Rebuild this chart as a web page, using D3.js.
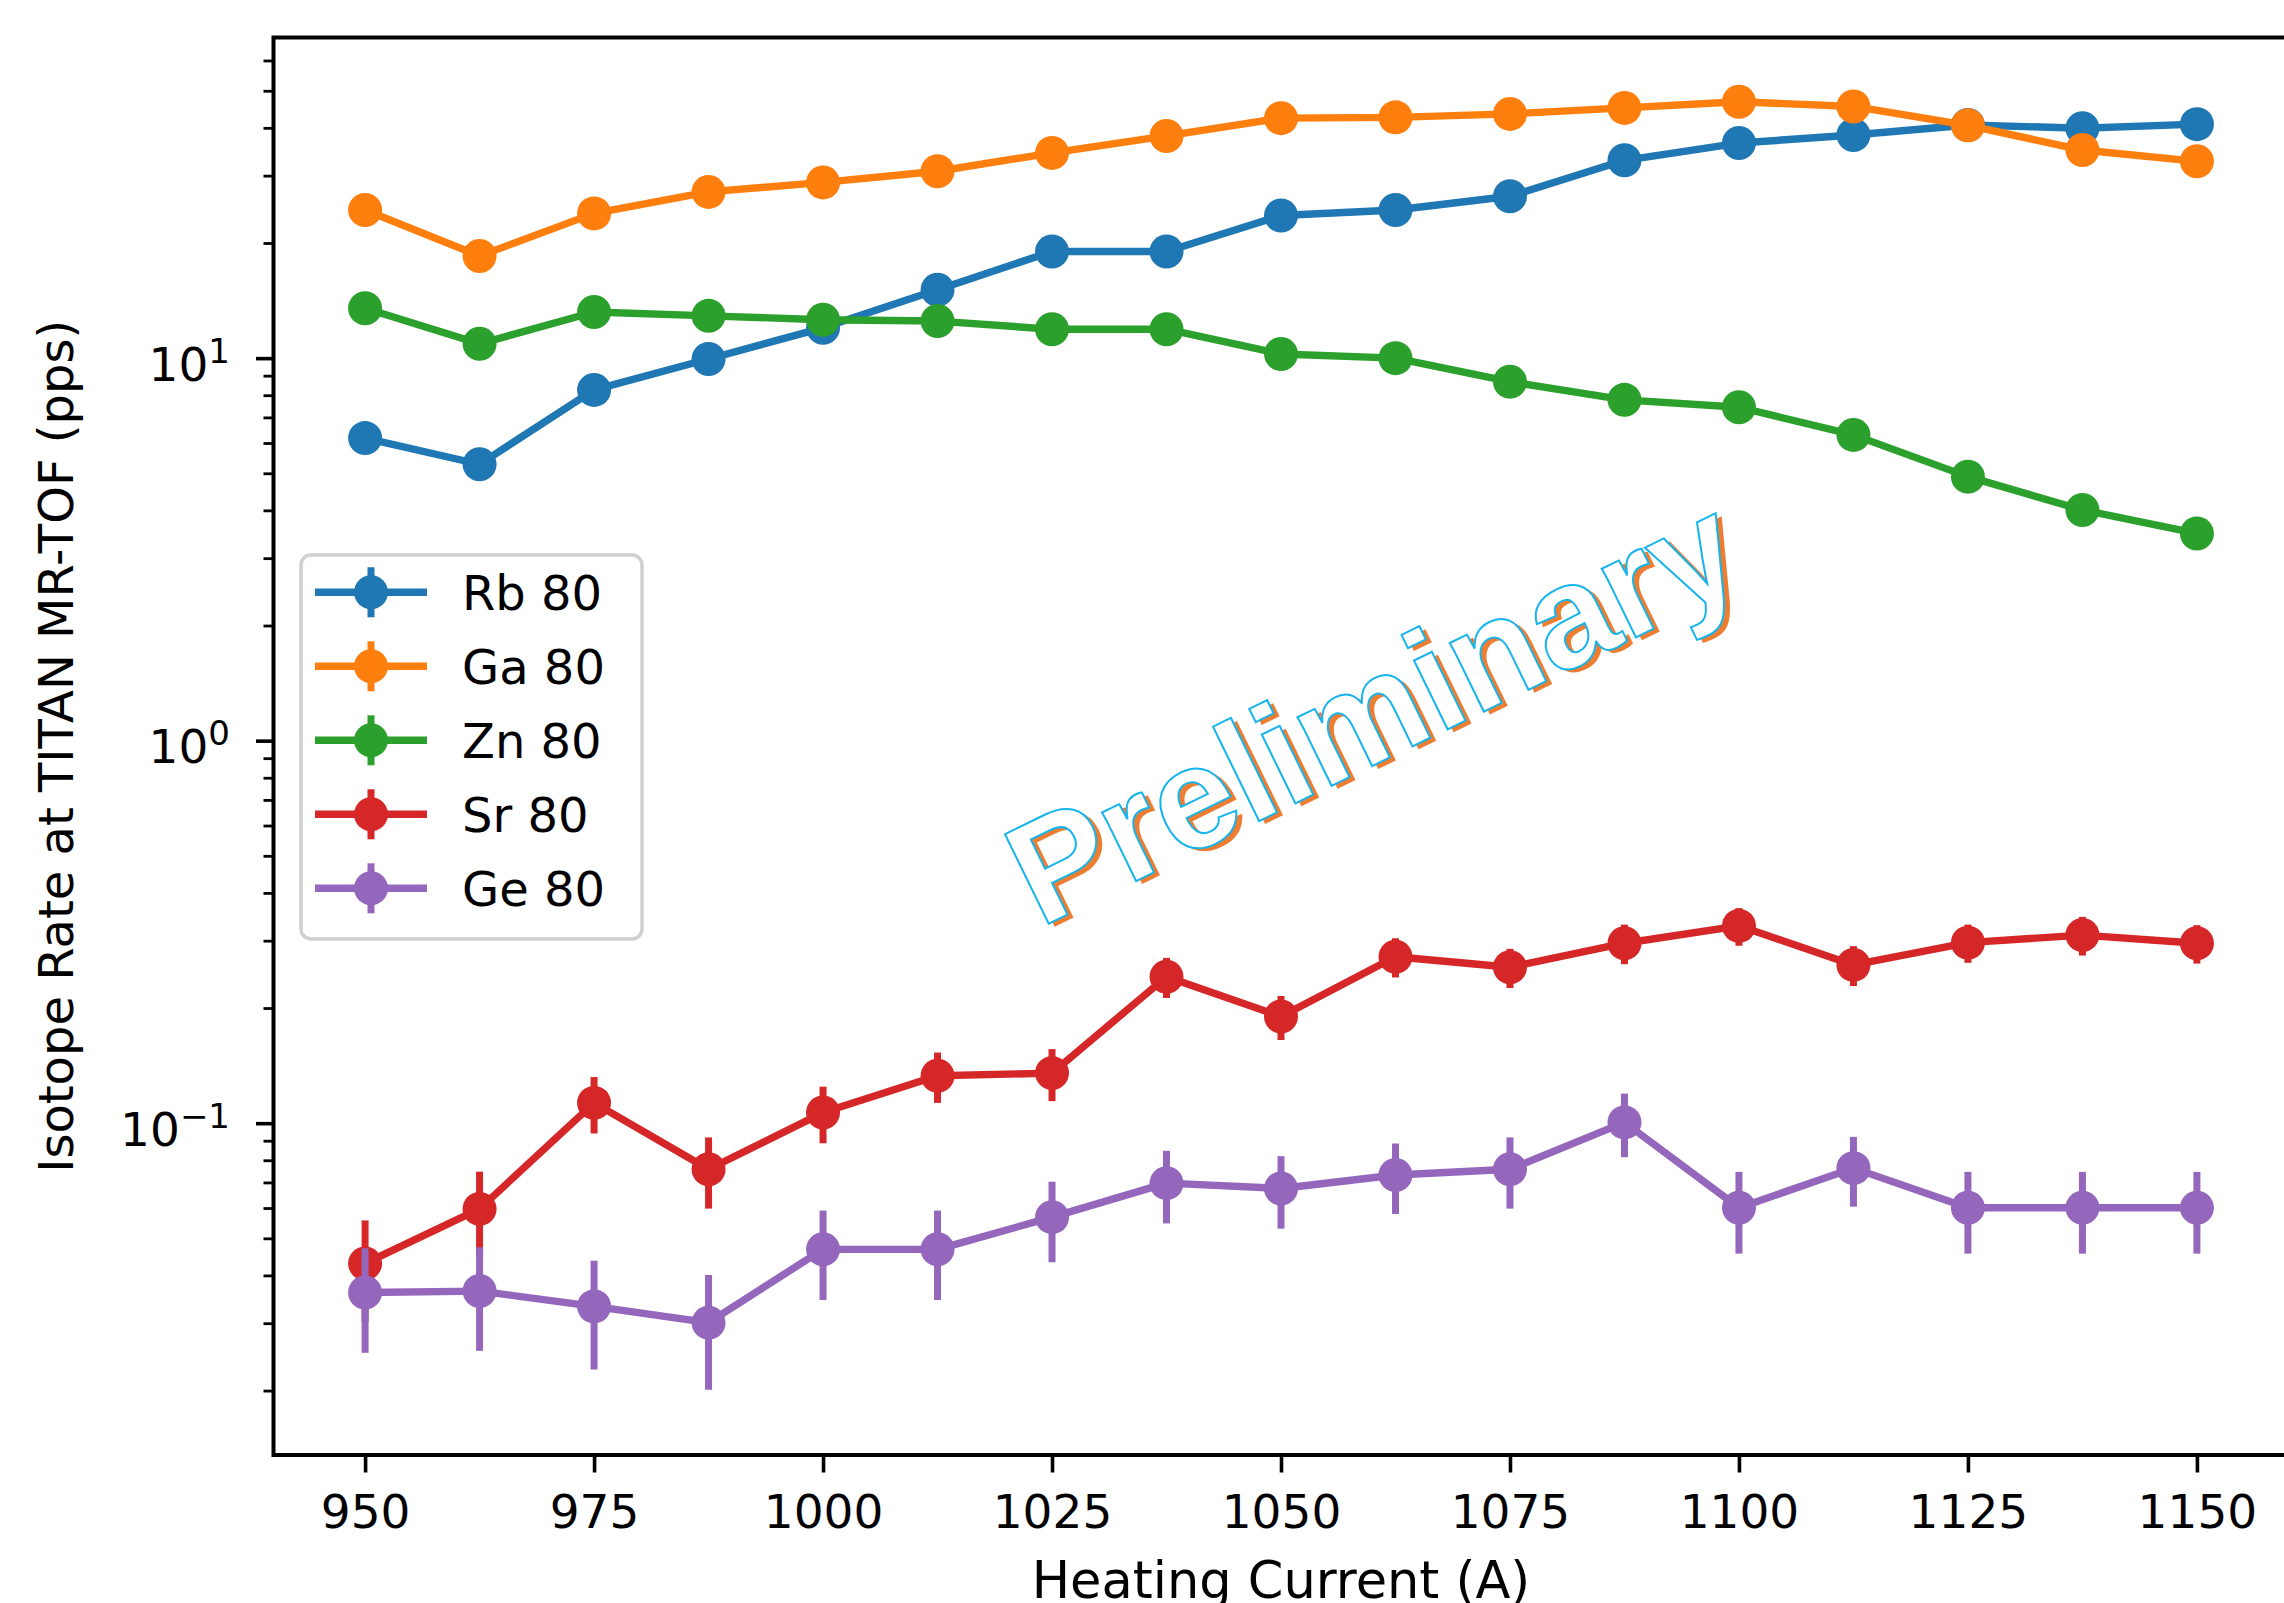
<!DOCTYPE html>
<html>
<head>
<meta charset="utf-8">
<script src="https://cdn.jsdelivr.net/npm/d3@7"></script>
<style>
  body { margin:0; background:white; }
  svg { display:block; }
</style>
</head>
<body>
<svg></svg>
<script>
// heating current (A)
var currents = [950, 962.5, 975, 987.5, 1000, 1012.5, 1025, 1037.5, 1050, 1062.5, 1075, 1087.5, 1100, 1112.5, 1125, 1137.5, 1150];

// rates (pps)
var rb80 = [6.18, 5.28, 8.26, 9.95, 12.0, 15.1, 19.0, 19.0, 23.6, 24.4, 26.5, 32.9, 36.5, 38.3, 40.7, 39.9, 40.9];
var ga80 = [24.4, 18.5, 23.9, 27.2, 28.8, 30.8, 34.4, 38.1, 42.4, 42.6, 43.5, 45.1, 46.8, 45.5, 40.6, 35.0, 32.7];
var zn80 = [13.5, 10.9, 13.2, 12.9, 12.6, 12.5, 11.9, 11.9, 10.25, 10.0, 8.68, 7.78, 7.44, 6.30, 4.90, 4.01, 3.48];
var sr80 = [0.0430, 0.0597, 0.1130, 0.0758, 0.1066, 0.133, 0.1352, 0.2415, 0.190, 0.2724, 0.2556, 0.2954, 0.328, 0.2593, 0.2965, 0.3103, 0.2954];
var ge80 = [0.0361, 0.0364, 0.0332, 0.0301, 0.0468, 0.0468, 0.0568, 0.0697, 0.0675, 0.0732, 0.0758, 0.1005, 0.0601, 0.0763, 0.0601, 0.0601, 0.0601];

// error bars (only visible ones for Sr / Ge)
var sr80Err = [0.0127, 0.015, 0.019, 0.016, 0.018, 0.020, 0.021, 0.029, 0.025, 0.032, 0.030, 0.035, 0.037, 0.031, 0.034, 0.036, 0.034];
var ge80Err = [0.011, 0.011, 0.0105, 0.010, 0.0123, 0.0123, 0.0135, 0.015, 0.0145, 0.0153, 0.016, 0.019, 0.0145, 0.0158, 0.0145, 0.0145, 0.0145];

var seriesNames = ["Rb 80", "Ga 80", "Zn 80", "Sr 80", "Ge 80"];
var seriesValues = [rb80, ga80, zn80, sr80, ge80];
var seriesErrors = [null, null, null, sr80Err, ge80Err];
var colors = ["#1f77b4", "#ff7f0e", "#2ca02c", "#d62728", "#9467bd"];

var xTicks = [950, 975, 1000, 1025, 1050, 1075, 1100, 1125, 1150];
var yMajor = [0.1, 1, 10];
var yMajorExp = ["\u22121", "0", "1"];

var screen = {width:2284, height:1603};
var box = {left:273.5, right:2288.5, top:37.5, bottom:1455};

var svg = d3.select("svg")
            .attr("width", screen.width)
            .attr("height", screen.height);

svg.append("rect")
   .attr("width", screen.width)
   .attr("height", screen.height)
   .attr("fill", "white");

var xScale = d3.scaleLinear()
               .domain([940, 1160])
               .range([box.left, box.right]);

var yScale = d3.scaleLog()
               .domain([0.01357, 68.9])
               .range([box.bottom, box.top]);

// minor ticks 2..9 x 10^k inside the domain
var yMinor = [];
[0.01, 0.1, 1, 10].forEach(function(p){
  for (var k = 2; k <= 9; k++) {
    var v = k * p;
    if (v > yScale.domain()[0] && v < yScale.domain()[1]) yMinor.push(v);
  }
});

// x axis
var xAxis = svg.append("g")
   .attr("transform", "translate(0," + box.bottom + ")")
   .call(d3.axisBottom(xScale)
           .tickValues(xTicks)
           .tickFormat(d3.format("d"))
           .tickSize(17.5)
           .tickSizeOuter(0)
           .tickPadding(22));
xAxis.select(".domain").remove();
xAxis.selectAll("line").attr("stroke", "black").attr("stroke-width", 3.6);
xAxis.selectAll("text")
     .attr("font-family", "DejaVu Sans")
     .attr("font-size", 47)
     .attr("fill", "black");

// y axis, minor
var yMinorAxis = svg.append("g")
   .attr("transform", "translate(" + box.left + ",0)")
   .call(d3.axisLeft(yScale)
           .tickValues(yMinor)
           .tickFormat("")
           .tickSize(10)
           .tickSizeOuter(0));
yMinorAxis.select(".domain").remove();
yMinorAxis.selectAll("line").attr("stroke", "black").attr("stroke-width", 2.8);

// y axis, major
var yAxis = svg.append("g")
   .attr("transform", "translate(" + box.left + ",0)")
   .call(d3.axisLeft(yScale)
           .tickValues(yMajor)
           .tickFormat("")
           .tickSize(17.5)
           .tickSizeOuter(0));
yAxis.select(".domain").remove();
yAxis.selectAll("line").attr("stroke", "black").attr("stroke-width", 3.6);
yAxis.selectAll("text").remove();

var yLabels = yAxis.selectAll("g.tick")
   .append("text")
   .attr("x", 230 - box.left)
   .attr("y", 22)
   .attr("text-anchor", "end")
   .attr("font-family", "DejaVu Sans")
   .attr("fill", "black");
yLabels.append("tspan")
   .attr("font-size", 47)
   .text("10");
yLabels.append("tspan")
   .attr("font-size", 34)
   .attr("dy", -18)
   .text(function(d, i){ return yMajorExp[i]; });

// data
var lineGen = d3.line()
   .x(function(d){ return xScale(d[0]); })
   .y(function(d){ return yScale(d[1]); });

seriesValues.forEach(function(vals, s)
{
  var pts = currents.map(function(c, i){ return [c, vals[i]]; });
  var g = svg.append("g");

  g.append("path")
   .attr("d", lineGen(pts))
   .attr("fill", "none")
   .attr("stroke", colors[s])
   .attr("stroke-width", 7.4)
   .attr("stroke-linejoin", "round");

  g.selectAll("circle")
   .data(pts)
   .enter()
   .append("circle")
   .attr("cx", function(d){ return xScale(d[0]); })
   .attr("cy", function(d){ return yScale(d[1]); })
   .attr("r", 17)
   .attr("fill", colors[s]);

  var errs = seriesErrors[s];
  if (errs) {
    g.selectAll("line.err")
     .data(pts)
     .enter()
     .append("line")
     .attr("class", "err")
     .attr("x1", function(d){ return xScale(d[0]); })
     .attr("x2", function(d){ return xScale(d[0]); })
     .attr("y1", function(d, i){ return yScale(d[1] + errs[i]); })
     .attr("y2", function(d, i){ return yScale(d[1] - errs[i]); })
     .attr("stroke", colors[s])
     .attr("stroke-width", 7);
  }
});

// spines
svg.append("rect")
   .attr("x", box.left)
   .attr("y", box.top)
   .attr("width", box.right - box.left)
   .attr("height", box.bottom - box.top)
   .attr("fill", "none")
   .attr("stroke", "black")
   .attr("stroke-width", 4);

// axis titles
svg.append("text")
   .attr("x", (box.left + box.right) / 2)
   .attr("y", 1598)
   .attr("text-anchor", "middle")
   .attr("font-family", "DejaVu Sans")
   .attr("font-size", 51)
   .text("Heating Current (A)");

svg.append("text")
   .attr("transform", "translate(73," + (box.top + box.bottom) / 2 + ") rotate(-90)")
   .attr("text-anchor", "middle")
   .attr("font-family", "DejaVu Sans")
   .attr("font-size", 48)
   .text("Isotope Rate at TITAN MR-TOF (pps)");

// watermark
svg.append("text")
   .attr("transform", "translate(1046,931) rotate(-26)")
   .attr("font-family", "Liberation Sans")
   .attr("font-weight", "bold")
   .attr("font-size", 145)
   .attr("fill", "#ed7d31")
   .text("Preliminary");
svg.append("text")
   .attr("transform", "translate(1040,928) rotate(-26)")
   .attr("font-family", "Liberation Sans")
   .attr("font-weight", "bold")
   .attr("font-size", 145)
   .attr("fill", "white")
   .attr("stroke", "#18b4ec")
   .attr("stroke-width", 2)
   .text("Preliminary");

// legend
var legend = svg.append("g");
legend.append("rect")
   .attr("x", 301)
   .attr("y", 555)
   .attr("width", 341)
   .attr("height", 384)
   .attr("rx", 10)
   .attr("fill", "white")
   .attr("fill-opacity", 0.8)
   .attr("stroke", "#d0d0d0")
   .attr("stroke-width", 3.5);

var rows = legend.selectAll("g.row")
   .data(seriesNames)
   .enter()
   .append("g")
   .attr("class", "row")
   .attr("transform", function(d, i){ return "translate(0," + (592.3 + i * 74) + ")"; });

rows.append("line")
   .attr("x1", 315).attr("x2", 427)
   .attr("stroke", function(d, i){ return colors[i]; })
   .attr("stroke-width", 7.4);
rows.append("line")
   .attr("x1", 371).attr("x2", 371)
   .attr("y1", -25).attr("y2", 25)
   .attr("stroke", function(d, i){ return colors[i]; })
   .attr("stroke-width", 7);
rows.append("circle")
   .attr("cx", 371)
   .attr("r", 17)
   .attr("fill", function(d, i){ return colors[i]; });
rows.append("text")
   .attr("x", 462)
   .attr("y", 17.7)
   .attr("font-family", "DejaVu Sans")
   .attr("font-size", 48)
   .text(function(d){ return d; });
</script>
</body>
</html>
